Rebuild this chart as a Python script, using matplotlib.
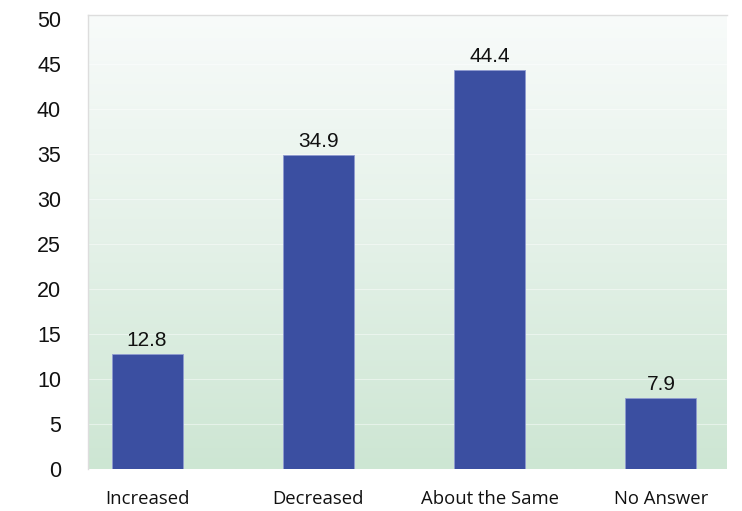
import matplotlib
matplotlib.use("Agg")
import matplotlib.pyplot as plt
import numpy as np
from matplotlib.colors import LinearSegmentedColormap

categories = ["Increased", "Decreased", "About the Same", "No Answer"]
values = [12.8, 34.9, 44.4, 7.9]
yticks = [0, 5, 10, 15, 20, 25, 30, 35, 40, 45, 50]

fig = plt.figure(figsize=(7.42, 5.11), dpi=100)
ax = fig.add_axes([88/742, 1-469/511, 639/742, 454/511])

ymin, ymax = 0, 50.5
xmin, xmax = -0.345, 3.386
ax.set_xlim(xmin, xmax)
ax.set_ylim(ymin, ymax)

cmap = LinearSegmentedColormap.from_list("g", ["#cde6d3", "#e4f1e8", "#f8fbfa"])
grad = np.linspace(0, 1, 256).reshape(-1, 1)
ax.imshow(grad, cmap=cmap, origin="lower", aspect="auto",
          extent=[xmin, xmax, ymin, ymax], zorder=0)

for t in yticks[1:-1]:
    ax.axhline(t, color="white", lw=0.8, alpha=0.45, zorder=1)

x = np.arange(len(categories))
bars = ax.bar(x, values, width=0.415, color="#3b4fa1", edgecolor="#8f9bd0",
              linewidth=0.6, zorder=2)
for xi, v in zip(x, values):
    ax.text(xi, v + 0.45, f"{v}", ha="center", va="bottom",
            fontsize=15, family="Liberation Sans", color="#111111", zorder=3)

ax.set_yticks(yticks)
ax.set_yticklabels([str(t) for t in yticks], family="Liberation Sans", fontsize=15.5)
ax.set_xticks(x)
ax.set_xticklabels(categories, family="Open Sans", fontsize=13.3)
ax.tick_params(axis="both", length=0, colors="#111111")
ax.tick_params(axis="y", pad=19.5)
ax.tick_params(axis="x", pad=15)

for side in ["top", "left"]:
    ax.spines[side].set_color("#dddddd")
    ax.spines[side].set_linewidth(1.0)
for side in ["right", "bottom"]:
    ax.spines[side].set_visible(False)

fig.savefig("out.png", dpi=100)
